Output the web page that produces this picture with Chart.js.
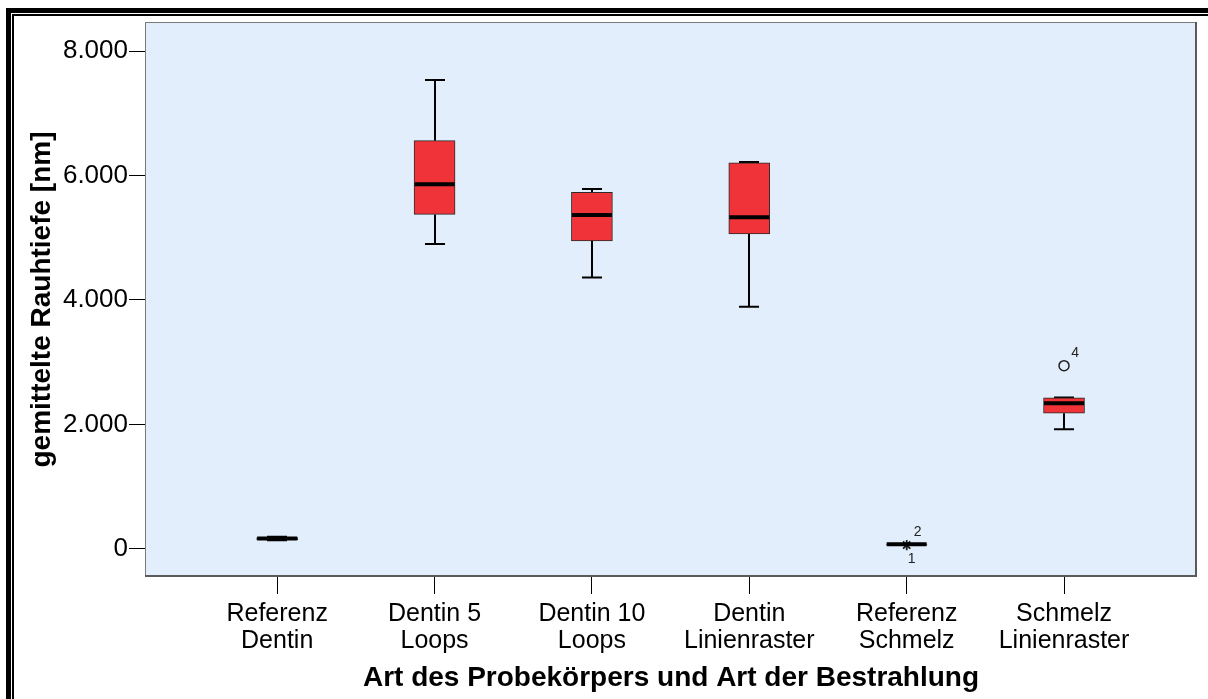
<!DOCTYPE html>
<html>
<head>
<meta charset="utf-8">
<script src="https://cdn.jsdelivr.net/npm/chart.js@4.4.1/dist/chart.umd.min.js"></script>
<style>
html, body { margin: 0; padding: 0; background: #fff; overflow: hidden; }
#wrap { position: relative; width: 1208px; height: 699px; }
.frame1 { position: absolute; left: 6px; top: 8px; width: 1300px; height: 800px; border-left: 5px solid #000; border-top: 5px solid #000; }
.frame2 { position: absolute; left: 12px; top: 14px; width: 1300px; height: 800px; border-left: 2px solid #000; border-top: 2px solid #000; }
canvas { position: absolute; left: 0; top: 0; }
</style>
</head>
<body>
<div id="wrap">
  <div class="frame1"></div>
  <div class="frame2"></div>
  <canvas id="boxChart" width="1208" height="699"></canvas>
</div>
<script>
// Kategorien (mehrzeilige Achsenbeschriftung)
const categories = [
    ['Referenz', 'Dentin'],
    ['Dentin 5', 'Loops'],
    ['Dentin 10', 'Loops'],
    ['Dentin', 'Linienraster'],
    ['Referenz', 'Schmelz'],
    ['Schmelz', 'Linienraster']
];

// Boxplot-Kennwerte [nm]
const whiskerLow  = [140, 4900, 4360, 3890, 70, 1925];
const q1          = [150, 5375, 4950, 5060, 72, 2180];
const median      = [170, 5860, 5365, 5330, 75, 2340];
const q3          = [185, 6560, 5730, 6205, 78, 2430];
const whiskerHigh = [195, 7535, 5785, 6215, 80, 2435];

// Ausreißer: Gruppe, Wert, Fallnummer, Art
const outlierGroup = [4, 4, 5];
const outlierValue = [60, 66, 2945];
const outlierCase  = ['1', '2', '4'];
const outlierKind  = ['extreme', 'extreme', 'mild'];
const outlierLabelPos = ['below', 'above', 'above']; // nur Darstellung

// Y-Achse
const yTicks = [0, 2000, 4000, 6000, 8000];
const yTickLabels = ['0', '2.000', '4.000', '6.000', '8.000'];

const FONT = '"Liberation Sans", Arial, sans-serif';

// Whisker, Median, Rahmen, Fallnummern
const boxParts = {
    id: 'boxParts',
    beforeDraw(chart) {
        const { ctx, chartArea: a } = chart;
        ctx.save();
        ctx.fillStyle = '#E2EEFB';
        ctx.fillRect(a.left, a.top, a.right - a.left, a.bottom - a.top);
        ctx.restore();
    },
    beforeDatasetsDraw(chart) {
        const { ctx } = chart;
        const xs = chart.scales.x, ys = chart.scales.y;
        ctx.save();
        ctx.strokeStyle = '#000';
        ctx.lineWidth = 2;
        categories.forEach((c, i) => {
            const px = Math.round(xs.getPixelForValue(i));
            const yLo = ys.getPixelForValue(whiskerLow[i]);
            const yHi = ys.getPixelForValue(whiskerHigh[i]);
            const yQ1 = ys.getPixelForValue(q1[i]);
            const yQ3 = ys.getPixelForValue(q3[i]);
            ctx.beginPath();
            ctx.moveTo(px, yLo); ctx.lineTo(px, yQ1);
            ctx.moveTo(px, yQ3); ctx.lineTo(px, yHi);
            ctx.moveTo(px - 10, yLo); ctx.lineTo(px + 10, yLo);
            ctx.moveTo(px - 10, yHi); ctx.lineTo(px + 10, yHi);
            ctx.stroke();
        });
        ctx.restore();
    },
    afterDatasetsDraw(chart) {
        const { ctx, chartArea: a } = chart;
        const xs = chart.scales.x, ys = chart.scales.y;
        ctx.save();
        // Median
        ctx.strokeStyle = '#000';
        ctx.lineWidth = 4;
        categories.forEach((c, i) => {
            const px = xs.getPixelForValue(i);
            const py = ys.getPixelForValue(median[i]);
            ctx.beginPath();
            ctx.moveTo(px - 20, py); ctx.lineTo(px + 20, py);
            ctx.stroke();
        });
        // Rahmen des Diagrammbereichs
        ctx.lineWidth = 1;
        ctx.strokeStyle = '#7a7a7a';
        ctx.strokeRect(a.left + 0.5, a.top + 0.5, a.right - a.left - 1, a.bottom - a.top - 1);
        ctx.lineWidth = 2;
        ctx.strokeStyle = '#5a5a5a';
        ctx.beginPath();
        ctx.moveTo(a.left, a.bottom - 1); ctx.lineTo(a.right, a.bottom - 1);
        ctx.moveTo(a.right - 1, a.top); ctx.lineTo(a.right - 1, a.bottom);
        ctx.stroke();
        // Fallnummern
        ctx.fillStyle = '#222';
        ctx.font = '14px ' + FONT;
        ctx.textAlign = 'center';
        ctx.textBaseline = 'middle';
        outlierCase.forEach((label, i) => {
            const px = xs.getPixelForValue(outlierGroup[i]);
            const py = ys.getPixelForValue(outlierValue[i]);
            if (outlierLabelPos[i] === 'below') ctx.fillText(label, px + 5, py + 14);
            else ctx.fillText(label, px + 11, py - 13);
        });
        ctx.restore();
    }
};

const ctx = document.getElementById('boxChart').getContext('2d');
new Chart(ctx, {
    type: 'bar',
    data: {
        datasets: [
            {
                type: 'bar',
                data: categories.map((c, i) => ({ x: i, y: [q1[i], q3[i]] })),
                backgroundColor: '#EF3339',
                borderColor: '#2a2a2a',
                borderWidth: 1,
                borderSkipped: false,
                barThickness: 41
            },
            {
                type: 'scatter',
                data: outlierGroup.map((g, i) => ({ x: g, y: outlierValue[i] })).filter((d, i) => outlierKind[i] === 'mild'),
                pointStyle: 'circle',
                pointRadius: 5,
                borderColor: '#222',
                borderWidth: 1.5,
                backgroundColor: 'rgba(0,0,0,0)'
            },
            {
                type: 'scatter',
                data: outlierGroup.map((g, i) => ({ x: g, y: outlierValue[i] })).filter((d, i) => outlierKind[i] === 'extreme'),
                pointStyle: 'star',
                pointRadius: 5,
                borderColor: '#222',
                borderWidth: 1.5
            }
        ]
    },
    options: {
        responsive: false,
        animation: false,
        layout: { padding: { left: 0, top: 22, right: 11, bottom: 0 } },
        plugins: {
            legend: { display: false },
            tooltip: { enabled: false }
        },
        scales: {
            x: {
                type: 'linear',
                offset: false,
                min: -0.84,
                max: 5.845,
                afterBuildTicks: (scale) => { scale.ticks = categories.map((c, i) => ({ value: i })); },
                afterFit: (scale) => { scale.height = 122; },
                grid: { offset: false, drawOnChartArea: false, drawTicks: true, tickLength: 17, color: '#000' },
                border: { display: false },
                ticks: {
                    autoSkip: false,
                    maxRotation: 0,
                    padding: 7,
                    color: '#000',
                    font: { family: FONT, size: 25, lineHeight: 1.08 },
                    callback: (v) => categories[v]
                },
                title: {
                    display: true,
                    text: 'Art des Probekörpers und Art der Bestrahlung',
                    color: '#000',
                    font: { family: FONT, size: 28, weight: 'bold' },
                    padding: { top: 0, bottom: 4 }
                }
            },
            y: {
                min: -450,
                max: 8466,
                afterBuildTicks: (scale) => { scale.ticks = yTicks.map(v => ({ value: v })); },
                afterFit: (scale) => { scale.width = 145; },
                grid: { drawOnChartArea: false, drawTicks: true, tickLength: 16, color: '#000' },
                border: { display: false },
                ticks: {
                    padding: 1,
                    color: '#000',
                    font: { family: FONT, size: 26 },
                    callback: (v) => yTickLabels[yTicks.indexOf(v)]
                },
                title: {
                    display: true,
                    text: 'gemittelte Rauhtiefe [nm]',
                    color: '#000',
                    font: { family: FONT, size: 28, weight: 'bold' },
                    padding: { top: 25, bottom: 0 }
                }
            }
        }
    },
    plugins: [boxParts]
});
</script>
</body>
</html>
